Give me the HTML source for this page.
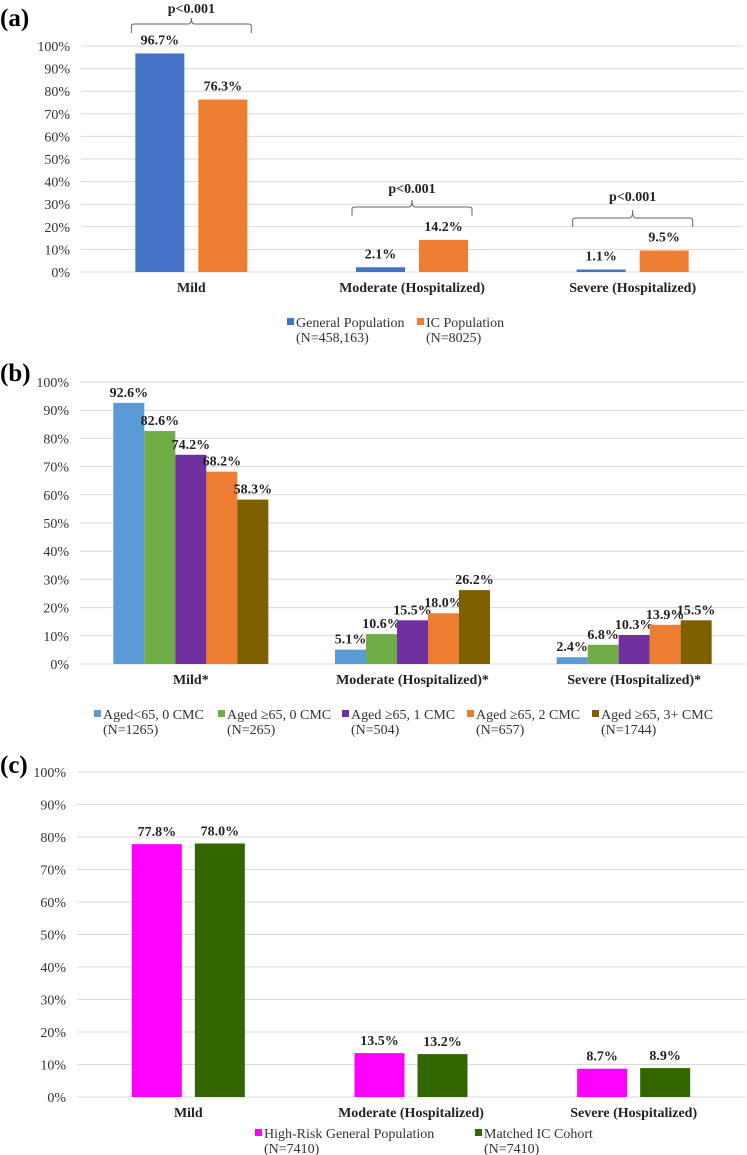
<!DOCTYPE html>
<html><head><meta charset="utf-8"><style>
html,body{margin:0;padding:0;background:#fff;}
svg{display:block;}
svg text{font-family:"Liberation Serif","Times New Roman",serif;}
</style></head><body>
<svg id="s" width="747" height="1155" viewBox="0 0 747 1155"></svg>
<script>
const catsA = ["Mild","Moderate (Hospitalized)","Severe (Hospitalized)"];
const serAGeneral = [96.7, 2.1, 1.1];
const serAIC = [76.3, 14.2, 9.5];
const catsB = ["Mild*","Moderate (Hospitalized)*","Severe (Hospitalized)*"];
const serB1 = [92.6, 5.1, 2.4];
const serB2 = [82.6, 10.6, 6.8];
const serB3 = [74.2, 15.5, 10.3];
const serB4 = [68.2, 18.0, 13.9];
const serB5 = [58.3, 26.2, 15.5];
const catsC = ["Mild","Moderate (Hospitalized)","Severe (Hospitalized)"];
const serCHighRisk = [77.8, 13.5, 8.7];
const serCMatched = [78.0, 13.2, 8.9];
const yTicks = [0,10,20,30,40,50,60,70,80,90,100];
const pLabels = ["p<0.001","p<0.001","p<0.001"];

const NS="http://www.w3.org/2000/svg";
const svg=document.getElementById('s');
function mk(tag,attrs,parent,text){const e=document.createElementNS(NS,tag);for(const k in attrs)e.setAttribute(k,attrs[k]);if(tag==='text')e.setAttribute('font-family','Liberation Serif, serif');if(text!==undefined)e.textContent=text;(parent||svg).appendChild(e);return e;}

function panel(cfg){
  const g=mk('g',{});
  
  
  const y=v=>cfg.y0-(v/100)*(cfg.y0-cfg.y100);
  const step=(cfg.x1-cfg.x0)/cfg.cats.length;
  const cx=i=>cfg.x0+step*(i+0.5);
  const pl=mk('text',{x:0,y:cfg.labelY,'font-size':25,'font-weight':'bold'},g,cfg.letter);
  
  
  yTicks.forEach(t=>{
    const ln=mk('line',{x1:cfg.x0,x2:cfg.x1,y1:y(t),y2:y(t),stroke:'#d9d9d9','stroke-width':1},g);
    
    
    const tl=mk('text',{x:cfg.x0-11,y:y(t)+5,'font-size':14,'text-anchor':'end',fill:'#333'},g,t+'%');
    
    
  });
  const n=cfg.series.length;
  cfg.cats.forEach((c,i)=>{
    const total=n*cfg.bw+(n-1)*cfg.gap;
    cfg.series.forEach((s,j)=>{
      const bx=cx(i)-total/2+j*(cfg.bw+cfg.gap);
      const v=s.vals[i];
      const r=mk('rect',{x:bx,y:y(v),width:cfg.bw,height:cfg.y0-y(v),fill:s.color},g);
      
      
      const vl=mk('text',{x:bx+cfg.bw/2,y:y(v)-cfg.vlOff,'font-size':14,'font-weight':'bold','text-anchor':'middle',fill:'#222'},g,v.toFixed(1)+'%');
      
      
    });
    const cl=mk('text',{x:cx(i),y:cfg.catY,'font-size':14,'font-weight':'bold','text-anchor':'middle',fill:'#222'},g,c);
    
    
  });
  cfg.legend.forEach(l=>{
    const lg=mk('g',{},g);
    
    
    mk('rect',{x:l.x,y:cfg.legY-9,width:7,height:7,fill:l.color},lg);
    mk('text',{x:l.x+9,y:cfg.legY,'font-size':14,fill:'#333'},lg,l.t1);
    mk('text',{x:l.x+9,y:cfg.legY+15,'font-size':14,fill:'#333'},lg,l.t2);
  });
  return {g,y,cx};
}

const A=panel({name:'panel-a',letter:'(a)',labelY:26,x0:81,x1:743,y0:272,y100:46,cats:catsA,bw:49,gap:14,vlOff:9,catY:292,legY:327,
  series:[{key:'general',vals:serAGeneral,color:'#4472C4'},{key:'ic',vals:serAIC,color:'#ED7D31'}],
  legend:[{x:287,color:'#4472C4',t1:'General Population',t2:'(N=458,163)'},{x:417,color:'#ED7D31',t1:'IC Population',t2:'(N=8025)'}]});
const brTop=[[24,18,8],[207,200,188],[218,210,196]];
catsA.forEach((c,i)=>{
  const cxv=A.cx(i), yb=brTop[i][0];
  const p=mk('path',{d:`M${cxv-60} ${yb+9} L${cxv-60} ${yb+2} Q${cxv-60} ${yb} ${cxv-57} ${yb} L${cxv-3} ${yb} Q${cxv} ${yb} ${cxv} ${brTop[i][1]} Q${cxv} ${yb} ${cxv+3} ${yb} L${cxv+57} ${yb} Q${cxv+60} ${yb} ${cxv+60} ${yb+2} L${cxv+60} ${yb+9}`,fill:'none',stroke:'#666','stroke-width':1},A.g);
  
  
  const t=mk('text',{x:cxv,y:brTop[i][2]+5,'font-size':14,'font-weight':'bold','text-anchor':'middle',fill:'#222'},A.g,pLabels[i]);
  
  
});

panel({name:'panel-b',letter:'(b)',labelY:381,x0:80,x1:745,y0:664,y100:382,cats:catsB,bw:31,gap:0,vlOff:6,catY:684,legY:719,
  series:[{key:'lt65-0cmc',vals:serB1,color:'#5B9BD5'},{key:'ge65-0cmc',vals:serB2,color:'#70AD47'},{key:'ge65-1cmc',vals:serB3,color:'#7030A0'},{key:'ge65-2cmc',vals:serB4,color:'#ED7D31'},{key:'ge65-3cmc',vals:serB5,color:'#7F6000'}],
  legend:[{x:94,color:'#5B9BD5',t1:'Aged<65, 0 CMC',t2:'(N=1265)'},{x:218,color:'#70AD47',t1:'Aged \u226565, 0 CMC',t2:'(N=265)'},{x:342,color:'#7030A0',t1:'Aged \u226565, 1 CMC',t2:'(N=504)'},{x:467,color:'#ED7D31',t1:'Aged \u226565, 2 CMC',t2:'(N=657)'},{x:592,color:'#7F6000',t1:'Aged \u226565, 3+ CMC',t2:'(N=1744)'}]});

panel({name:'panel-c',letter:'(c)',labelY:773,x0:77,x1:745,y0:1097,y100:772,cats:catsC,bw:50,gap:13,vlOff:8,catY:1117,legY:1138,
  series:[{key:'high-risk',vals:serCHighRisk,color:'#FF00FF'},{key:'matched-ic',vals:serCMatched,color:'#336600'}],
  legend:[{x:255,color:'#FF00FF',t1:'High-Risk General Population',t2:'(N=7410)'},{x:475,color:'#336600',t1:'Matched IC Cohort',t2:'(N=7410)'}]});
</script>
</body></html>
